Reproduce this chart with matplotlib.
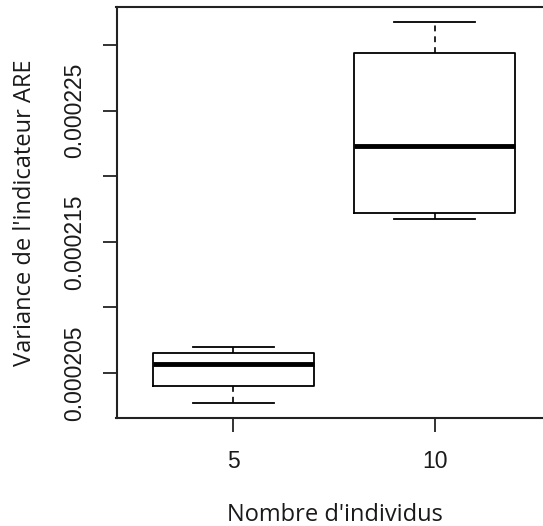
import matplotlib
matplotlib.use("Agg")
import matplotlib.pyplot as plt

# valeurs (boxplot R)
groupes = ["5", "10"]
bas = [0.00020273, 0.00021673]
q1 = [0.00020401, 0.00021717]
mediane = [0.00020566, 0.00022232]
q3 = [0.00020653, 0.00022936]
haut = [0.00020699, 0.00023173]

yticks = [0.000205, 0.000210, 0.000215, 0.000220, 0.000225, 0.000230]
ylabels = ["0.000205", "", "0.000215", "", "0.000225", ""]

W, H = 543, 526
fig = plt.figure(figsize=(W / 100, H / 100), dpi=100)
ax = fig.add_axes([116.5 / W, 1 - 418 / H, 435 / W, 411 / H])

stats = []
for i, g in enumerate(groupes):
    stats.append(dict(label=g, whislo=bas[i], q1=q1[i], med=mediane[i],
                      q3=q3[i], whishi=haut[i]))

ax.bxp(stats, positions=[1, 2], widths=0.8, showfliers=False,
       boxprops=dict(color="black", linewidth=1.3),
       medianprops=dict(color="black", linewidth=3.5, solid_capstyle="butt"),
       whiskerprops=dict(color="black", linewidth=1.2, linestyle=(0, (3.5, 3))),
       capprops=dict(color="black", linewidth=1.3),
       capwidths=0.4)

ax.set_xlim(0.42, 2.58)
ax.set_ylim(0.00020157, 0.00023289)
ax.set_yticks(yticks)
ax.set_yticklabels(ylabels, rotation=90, va="center", family="Liberation Sans",
                   fontsize=16.5, color="#1a1a1a")
ax.set_xticks([1, 2])
ax.set_xticklabels(groupes, family="Liberation Sans", fontsize=16.5, color="#1a1a1a")
ax.tick_params(axis="both", length=10, width=1.3, color="#222222")
ax.tick_params(axis="y", pad=12)
ax.tick_params(axis="x", pad=13)
for s in ax.spines.values():
    s.set_linewidth(1.5)
    s.set_color("#222222")

fig.text(25 / W, 1 - 213 / H, "Variance de l'indicateur ARE", rotation=90,
         ha="center", va="center", family="Open Sans", fontsize=17, color="#1a1a1a")
fig.text(335 / W, 1 - 515 / H, "Nombre d'individus", ha="center", va="center",
         family="Open Sans", fontsize=17, color="#1a1a1a")

fig.savefig("out.png", dpi=100)
